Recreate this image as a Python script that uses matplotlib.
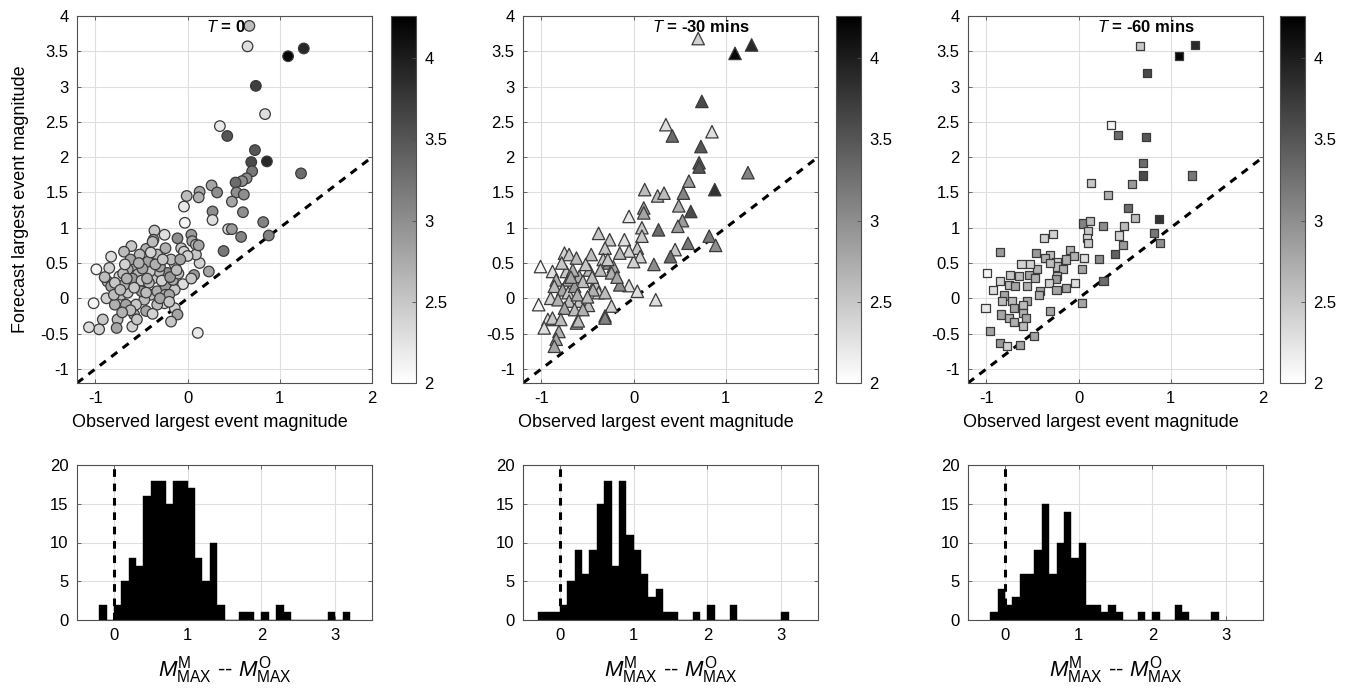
import numpy as np
import matplotlib
matplotlib.use("Agg")
import matplotlib.pyplot as plt

plt.rcParams['font.family'] = ['Liberation Sans', 'DejaVu Sans']
plt.rcParams['mathtext.fontset'] = 'custom'
plt.rcParams['mathtext.rm'] = 'Liberation Sans'
plt.rcParams['mathtext.it'] = 'Liberation Sans:italic'
plt.rcParams['font.size'] = 12

# observed / forecast largest magnitudes and the colour value of each event, T = 0
obs_t0 = [0.67, 0.65, 1.09, 1.26, 0.74, 0.84, 0.35, 0.43, 0.73, 0.69, 0.86, 0.70, 1.23, 0.64, 0.59, 0.52,
          0.53, 0.61, 0.26, 0.32, -0.01, 0.13, 0.12, -0.04, 0.48, 0.27, 0.60, 0.27, -0.03, 0.44, 0.48, 0.58,
          0.82, 0.88, 0.39, 0.11, 0.13, 0.07, 0.23, -0.05, 0.04,
          -0.36, -0.25, -0.37, -0.61, -0.45, -0.69, -0.83, -0.99, -0.85, -0.11, 0.04, 0.05, 0.09, -0.07, -0.04,
          0.09, -0.25, -0.14, -0.11, -0.18, -0.45, -0.58, -0.60, -0.76, -0.77, -0.92, -0.96, -1.07, -1.02,
          -0.88, -0.79, -0.87, -0.83, -0.72, -0.65, -0.74, -0.69, -0.56, -0.54, -0.47, -0.36, -0.40, -0.33,
          -0.24, -0.14, -0.16, -0.22, -0.31, -0.41, -0.43, -0.33, -0.24, -0.14, -0.52, -0.65, -0.79, -0.47,
          -0.56, -0.67, -0.33, -0.24, -0.60, -0.50, -0.30, -0.18, -0.70, -0.62, -0.40, -0.28, -0.50, -0.80,
          -0.10, -0.20, -0.62, -0.38, 0.00, 0.12,
          -0.73, -0.66, -0.58, -0.49, -0.42, -0.35, -0.27, -0.19, -0.12, -0.68, -0.53, -0.45, -0.30, -0.20,
          -0.90, -0.71, -0.38, -0.08, -0.55, -0.44]
fc_t0 = [3.86, 3.57, 3.43, 3.54, 3.01, 2.61, 2.44, 2.30, 2.10, 1.93, 1.94, 1.80, 1.77, 1.70, 1.66, 1.64,
         1.50, 1.47, 1.60, 1.50, 1.45, 1.51, 1.43, 1.30, 1.37, 1.23, 1.22, 1.11, 1.07, 0.98, 0.98, 0.87,
         1.08, 0.89, 0.67, -0.49, 0.50, 0.33, 0.38, 0.20, 0.28,
         0.96, 0.90, 0.83, 0.74, 0.70, 0.66, 0.59, 0.41, 0.43, 0.85, 0.90, 0.81, 0.76, 0.71, 0.66,
         0.62, -0.07, -0.14, -0.23, -0.33, -0.18, -0.23, -0.40, -0.30, -0.42, -0.30, -0.44, -0.41, -0.07,
         0.00, -0.09, 0.24, 0.17, 0.05, 0.08, 0.31, 0.19, 0.45, 0.34, 0.19, 0.29, 0.05, 0.10,
         0.17, 0.12, 0.26, 0.36, 0.38, 0.38, 0.52, 0.62, 0.71, 0.48, 0.62, 0.41, 0.22, -0.02,
         -0.09, -0.09, -0.09, 0.05, 0.28, 0.25, 0.45, 0.55, 0.35, 0.55, 0.65, 0.25, 0.10, 0.05,
         0.35, 0.05, -0.17, -0.22, 0.60, 0.75,
         0.12, 0.28, 0.15, 0.42, 0.22, 0.48, 0.55, 0.30, 0.40, 0.48, 0.50, 0.08, 0.00, -0.05,
         0.30, -0.20, 0.80, 0.55, -0.30, 0.28]
c_t0 = [2.6, 2.3, 4.2, 3.9, 3.7, 2.3, 2.2, 3.5, 3.5, 3.6, 3.9, 3.2, 3.3, 3.0, 3.0, 3.3,
        3.0, 3.0, 2.8, 3.0, 2.6, 2.8, 2.7, 2.2, 2.8, 3.0, 3.0, 2.3, 2.1, 2.4, 2.9, 3.1,
        3.1, 3.1, 3.2, 2.2, 2.4, 2.9, 2.8, 2.3, 2.5,
        2.5, 2.3, 2.9, 2.5, 2.7, 2.6, 2.3, 2.1, 2.4, 3.0, 2.9, 2.8, 2.6, 2.5, 2.4,
        2.5, 2.3, 2.4, 2.8, 2.5, 2.8, 2.7, 2.4, 2.6, 2.8, 2.5, 2.4, 2.3, 2.1,
        2.4, 2.7, 2.6, 2.8, 2.6, 2.5, 2.3, 2.7, 2.7, 2.6, 2.8, 2.5, 2.6, 2.7,
        2.9, 2.5, 2.7, 3.0, 2.6, 2.5, 2.8, 2.6, 2.7, 2.5, 2.6, 2.7, 2.5, 2.6,
        2.5, 2.8, 2.6, 2.6, 2.9, 2.5, 2.8, 2.6, 2.6, 2.8, 2.4, 2.4, 2.9, 2.6,
        2.6, 2.8, 2.6, 2.4, 2.4, 2.8,
        2.6, 2.7, 2.5, 2.8, 2.6, 2.7, 2.5, 2.9, 2.6, 2.4, 2.7, 2.6, 2.8, 2.5,
        2.6, 2.7, 2.6, 2.8, 2.5, 2.7]

# T = -30 mins
obs_t30 = [0.70, 1.10, 1.28, 0.74, 0.35, 0.42, 0.85, 0.73, 0.71, 0.71, 1.24, 0.60, 0.54, 0.88, 0.12, 0.26,
           0.33, 0.49, 0.62, 0.11, 0.11, -0.05, 0.53, 0.48, 0.09, 0.27, 0.09, 0.82, 0.89, 0.59, 0.45, 0.40,
           0.22, 0.24, 0.04, 0.07, 0.00, -0.05, 0.04, -0.15, -0.10, -0.05, -0.26, -0.38, -0.31, -0.15,
           -0.27, -0.22, -0.24, -0.33, -0.46, -0.48, -0.75, -0.70, -0.62, -1.01, -0.88, -0.84, -0.73, -0.59,
           -0.71, -0.55, -0.42, -0.38, -0.31, -0.44, -0.86, -0.77, -0.71, -0.64, -0.90, -0.82, -1.03, -0.70,
           -0.59, -0.49, -0.75, -0.64, -0.55, -0.24, -0.31, -0.31, -0.93, -0.88, -0.97, -0.79, -0.62, -0.60,
           -0.81, -0.84, -0.86,
           -0.66, -0.52, -0.36, -0.18, -0.78, -0.61, -0.45, -0.28, -0.68, -0.50]
fc_t30 = [3.68, 3.47, 3.59, 2.79, 2.46, 2.30, 2.36, 2.15, 1.92, 1.86, 1.78, 1.66, 1.49, 1.54, 1.54, 1.45,
          1.49, 1.31, 1.23, 1.28, 1.21, 1.16, 1.10, 1.02, 1.00, 0.97, 0.88, 0.88, 0.75, 0.78, 0.69, 0.59,
          0.48, -0.02, 0.71, 0.59, 0.52, 0.18, 0.10, 0.19, 0.83, 0.67, 0.83, 0.92, 0.71, 0.64,
          0.50, 0.45, 0.36, 0.55, 0.62, 0.40, 0.64, 0.62, 0.57, 0.45, 0.38, 0.26, 0.38, 0.31,
          0.26, 0.24, 0.21, 0.08, 0.08, 0.12, 0.17, 0.12, 0.08, 0.17, 0.00, -0.02, -0.09, -0.04,
          -0.04, -0.10, -0.14, -0.16, -0.16, -0.11, -0.25, -0.28, -0.30, -0.28, -0.42, -0.30, -0.35, -0.32,
          -0.47, -0.58, -0.68,
          0.40, 0.48, 0.40, 0.30, 0.50, 0.05, 0.30, 0.55, 0.30, 0.02]
c_t30 = [2.4, 4.2, 3.9, 3.6, 2.3, 3.3, 2.3, 3.5, 3.4, 3.5, 3.1, 2.9, 3.1, 3.8, 2.6, 2.6,
         2.6, 2.7, 3.6, 2.9, 2.8, 2.2, 2.9, 2.9, 2.5, 3.3, 2.5, 3.2, 3.0, 3.2, 2.5, 3.3,
         3.0, 2.3, 2.5, 2.4, 2.4, 2.3, 2.3, 3.0, 2.3, 2.4, 2.5, 2.5, 2.5, 2.6,
         3.0, 2.8, 2.7, 2.5, 2.6, 2.6, 2.4, 2.5, 2.6, 2.1, 2.3, 2.7, 2.5, 2.7,
         2.8, 2.6, 2.5, 2.4, 2.6, 2.7, 2.6, 2.8, 2.5, 2.9, 2.4, 2.7, 2.1, 2.6,
         2.5, 2.6, 2.8, 2.6, 2.7, 2.4, 3.0, 3.1, 2.3, 2.5, 2.3, 2.6, 2.8, 2.6,
         2.7, 2.8, 2.8,
         2.7, 2.5, 2.6, 2.8, 2.5, 2.7, 2.6, 2.5, 2.8, 2.6]

# T = -60 mins
obs_t60 = [0.67, 1.09, 1.26, 0.74, 0.35, 0.43, 0.73, 0.70, 0.70, 1.23, 0.13, 0.58, 0.32, 0.54, 0.61, 0.87,
           0.05, 0.12, 0.26, 0.49, 0.10, 0.09, 0.10, 0.44, 0.82, 0.88, 0.48, 0.39, 0.22, 0.06, 0.04, -0.04,
           0.27, 0.04, -0.38, -0.28, -0.09, -0.05, -0.14, -0.46, -0.31, -0.36, -0.24, -0.23, -0.31, -0.45,
           -0.17, -0.23, -0.25, -0.62, -0.53, -0.85, -0.74, -0.65, -0.54, -0.47, -0.99, -0.85, -0.76, -0.69,
           -0.56, -0.93, -0.32, -0.24, -0.14, -0.42, -0.43, -0.81, -0.83, -0.72, -0.56, -1.01, -0.70, -0.60,
           -0.60, -0.84, -0.76, -0.31, -0.57, -0.70, -0.60, -0.96, -0.48, -0.85, -0.78, -0.64]
fc_t60 = [3.57, 3.43, 3.59, 3.19, 2.46, 2.32, 2.29, 1.92, 1.74, 1.74, 1.63, 1.62, 1.47, 1.28, 1.14, 1.12,
          1.06, 1.09, 1.03, 1.02, 0.96, 0.85, 0.78, 0.89, 0.92, 0.79, 0.76, 0.63, 0.56, 0.57, 0.42, 0.22,
          0.24, -0.07, 0.86, 0.91, 0.69, 0.60, 0.55, 0.64, 0.62, 0.57, 0.52, 0.45, 0.50, 0.41,
          0.41, 0.31, 0.27, 0.48, 0.48, 0.65, 0.33, 0.31, 0.33, 0.29, 0.36, 0.24, 0.19, 0.18,
          0.18, 0.12, 0.22, 0.12, 0.15, 0.10, 0.05, 0.04, -0.04, -0.04, -0.04, -0.14, -0.14, -0.09,
          -0.21, -0.23, -0.28, -0.18, -0.28, -0.34, -0.39, -0.46, -0.54, -0.63, -0.68, -0.66]
c_t60 = [2.5, 4.2, 3.9, 3.6, 2.1, 3.3, 3.5, 3.3, 3.6, 3.2, 2.5, 2.9, 2.7, 3.3, 2.6, 3.8,
         3.1, 2.6, 3.0, 2.6, 2.5, 2.4, 2.5, 2.4, 3.2, 3.0, 2.9, 3.4, 3.0, 2.3, 2.8, 2.3,
         3.3, 2.8, 2.4, 2.4, 2.7, 2.7, 2.7, 2.9, 2.6, 2.7, 2.4, 2.6, 2.6, 2.7,
         2.7, 2.6, 2.9, 2.4, 2.4, 2.9, 2.5, 2.6, 2.8, 2.7, 2.1, 2.4, 2.6, 2.8,
         2.7, 2.3, 2.4, 2.8, 2.8, 2.8, 2.7, 2.8, 2.6, 2.6, 2.8, 2.2, 2.8, 2.6,
         2.7, 2.8, 2.7, 2.8, 2.8, 2.7, 2.6, 2.8, 2.8, 2.9, 2.4, 2.8]

# histograms of forecast minus observed, bins of width 0.1
hist_t0_start = -0.2
hist_t0 = [2, 0, 2, 5, 8, 7, 16, 18, 18, 15, 18, 18, 17, 8, 5, 10, 2, 0, 0, 1, 1, 0, 1, 0, 2, 1,
           0, 0, 0, 0, 0, 1, 0, 1]
hist_t30_start = -0.3
hist_t30 = [1, 1, 1, 2, 5, 9, 6, 9, 15, 18, 7, 18, 11, 9, 6, 3, 4, 1, 1, 0, 0, 1, 0, 2, 0, 0,
            2, 0, 0, 0, 0, 0, 0, 1]
hist_t60_start = -0.2
hist_t60 = [1, 4, 2, 3, 6, 6, 9, 15, 6, 10, 14, 8, 10, 2, 2, 1, 2, 1, 0, 0, 1, 0, 1, 0, 0, 2,
            1, 0, 0, 0, 1]
bin_width = 0.1

titles = ["$T$ = 0", "$T$ = -30 mins", "$T$ = -60 mins"]
markers = ["o", "^", "s"]
sizes = [58, 80, 34]

cmin, cmax = 2.0, 4.26
frame_col = "#505050"
grid_col = "#dedede"


def style_axes(ax):
    for sp in ax.spines.values():
        sp.set_color(frame_col)
        sp.set_linewidth(0.8)
    ax.tick_params(direction="in", top=True, right=True, length=3, width=0.6,
                   color=frame_col, labelsize=12, pad=6)
    ax.grid(True, color=grid_col, linewidth=0.8)
    ax.set_axisbelow(True)


fig = plt.figure(figsize=(13.48, 6.91), dpi=100)

W, H = 1348.0, 691.0
lefts = [77, 523, 968]
cb_lefts = [391, 836, 1280]

scatter_data = [(obs_t0, fc_t0, c_t0), (obs_t30, fc_t30, c_t30), (obs_t60, fc_t60, c_t60)]
hist_data = [(hist_t0_start, hist_t0), (hist_t30_start, hist_t30), (hist_t60_start, hist_t60)]

for i in range(3):
    # scatter of forecast against observed
    ax = fig.add_axes([lefts[i] / W, 1 - 383 / H, 295 / W, 367 / H])
    style_axes(ax)
    x, y, c = scatter_data[i]
    ax.plot([-1.2, 2], [-1.2, 2], color="k", linestyle=(0, (2.5, 2.2)), linewidth=2.2, zorder=1)
    sc = ax.scatter(x, y, c=c, cmap="gray_r", vmin=cmin, vmax=cmax, marker=markers[i],
                    s=sizes[i], edgecolors="#3a3a3a", linewidths=0.9, zorder=2)
    ax.set_xlim(-1.2, 2)
    ax.set_ylim(-1.2, 4)
    ax.set_xticks([-1, 0, 1, 2])
    ax.set_yticks(np.arange(-1, 4.01, 0.5))
    ax.set_yticklabels(["-1", "-0.5", "0", "0.5", "1", "1.5", "2", "2.5", "3", "3.5", "4"])
    ax.set_xticklabels(["-1", "0", "1", "2"])
    ax.set_xlabel("Observed largest event magnitude", fontsize=13)
    ax.xaxis.set_label_coords(0.45, -0.085)
    if i == 0:
        ax.set_ylabel("Forecast largest event magnitude", fontsize=13, labelpad=8)
    ax.text(0.2, 3.84, titles[i], fontsize=12, fontweight="bold", ha="left", va="center", zorder=3)

    cax = fig.add_axes([cb_lefts[i] / W, 1 - 383 / H, 25 / W, 367 / H])
    cb = plt.colorbar(sc, cax=cax)
    cb.set_ticks([2, 2.5, 3, 3.5, 4])
    cb.set_ticklabels(["2", "2.5", "3", "3.5", "4"])
    cb.outline.set_edgecolor(frame_col)
    cb.outline.set_linewidth(0.8)
    cax.tick_params(direction="in", length=3, width=0.6, color=frame_col, labelsize=12, pad=6)

    # histogram of the difference
    hx = fig.add_axes([lefts[i] / W, 1 - 620 / H, 295 / W, 155 / H])
    style_axes(hx)
    start, counts = hist_data[i]
    edges = start + bin_width * np.arange(len(counts))
    hx.bar(edges, counts, width=bin_width, align="edge", color="k", edgecolor="k",
           linewidth=0.3, zorder=2)
    hx.plot([0, 0], [0, 20], color="k", linestyle=(0, (2.5, 2.2)), linewidth=2.2, zorder=3)
    hx.set_xlim(-0.5, 3.5)
    hx.set_ylim(0, 20)
    hx.set_xticks([0, 1, 2, 3])
    hx.set_yticks([0, 5, 10, 15, 20])
    hx.set_xlabel(r"$M^{\mathrm{M}}_{\mathrm{MAX}}$ -- $M^{\mathrm{O}}_{\mathrm{MAX}}$",
                  fontsize=16, labelpad=8)

fig.savefig("out.png", dpi=100)
